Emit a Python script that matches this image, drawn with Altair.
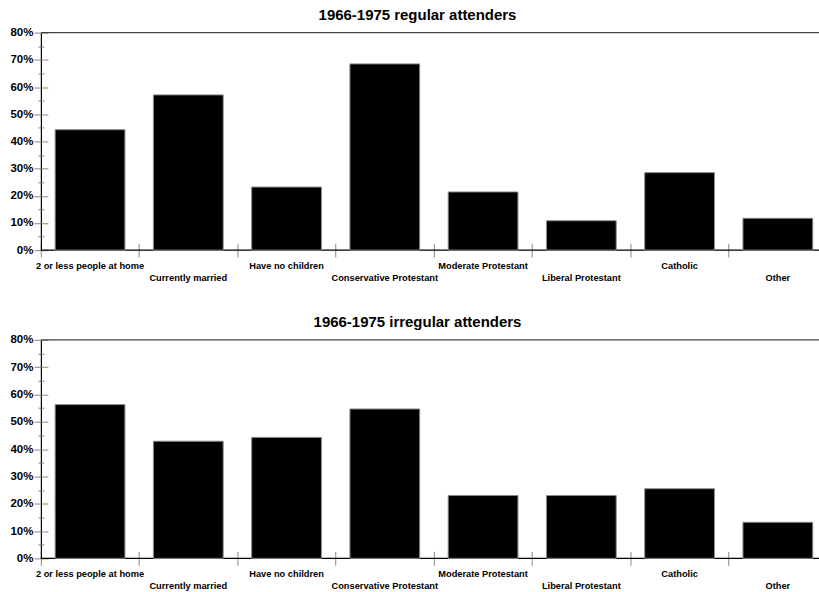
import json
import altair as alt
import pandas as pd

# Share of each group, by attendance pattern (percent)
categories = [
    "2 or less people at home",
    "Currently married",
    "Have no children",
    "Conservative Protestant",
    "Moderate Protestant",
    "Liberal Protestant",
    "Catholic",
    "Other",
]
regular = [44.3, 57.1, 23.2, 68.5, 21.4, 10.8, 28.5, 11.7]
irregular = [56.3, 42.9, 44.3, 54.7, 23.0, 23.0, 25.5, 13.2]
y_ticks = list(range(0, 85, 5))
frame_edges = [0, 80]

FONT = "Liberation Sans, Arial, sans-serif"
W = 788
TICK = "#9a9a9a"

major = "datum.value % 10 === 0"
odd_label = "indexof(%s, datum.value) %% 2 === 1" % json.dumps(categories)


def panel(values, title, H):
    df = pd.DataFrame({"group": categories, "share": values})
    x_scale = alt.Scale(domain=categories, paddingInner=0, paddingOuter=0)
    y_scale = alt.Scale(domain=[0, 80], nice=False, zero=True)
    base = alt.Chart(df)

    bars = base.mark_bar(
        color="black", stroke="#8a8a8a", strokeWidth=1,
        width=alt.RelativeBandSize(0.71),
    ).encode(
        x=alt.X("group:N", sort=categories, scale=x_scale, title=None,
                axis=alt.Axis(orient="bottom", bandPosition=0, labelAngle=0,
                              labelFont=FONT,
                              labelFontWeight="bold", labelFontSize=9.3,
                              labelColor="black", labelBaseline="top",
                              labelPadding={"condition": {"test": odd_label, "value": 16},
                                            "value": 4},
                              tickSize=7, tickColor=TICK, tickWidth=1.2,
                              domain=False, minExtent=0,
                              labelOverlap=False, labelLimit=0)),
        y=alt.Y("share:Q", scale=y_scale, title=None,
                axis=alt.Axis(orient="left", values=y_ticks, grid=False,
                              labelExpr=f"{major} ? datum.value + '%' : ''",
                              labelFont=FONT, labelFontWeight="bold",
                              labelFontSize=11.5, labelColor="black",
                              labelPadding=1, minExtent=0,
                              tickSize={"condition": {"test": major, "value": 7},
                                        "value": 3},
                              tickColor=TICK, tickWidth=1.2,
                              domainColor="black", domainWidth=1.2)),
    )

    # inward halves of the tick marks
    inner = base.mark_bar(opacity=0).encode(
        x=alt.X("group:N", sort=categories, scale=x_scale, title=None,
                axis=alt.Axis(orient="top", offset=-H, bandPosition=0,
                              labels=False, domain=False, tickSize=7,
                              tickColor=TICK, tickWidth=1.2, minExtent=0)),
        y=alt.Y("share:Q", scale=y_scale, title=None,
                axis=alt.Axis(orient="right", offset=-W, values=y_ticks,
                              labels=False, domain=False, grid=False,
                              minExtent=0,
                              tickSize={"condition": {"test": major, "value": 7},
                                        "value": 3},
                              tickColor=TICK, tickWidth=1.2)),
    )

    # baseline and top frame line across the plot
    frame = alt.Chart(pd.DataFrame({"edge": frame_edges})).mark_rule(
        strokeWidth=1.2
    ).encode(
        y=alt.Y("edge:Q", scale=y_scale, axis=None),
        x=alt.value(0),
        x2=alt.value(W),
        color=alt.condition("datum.edge > 0", alt.value("#444444"), alt.value("black")),
    )

    return alt.layer(frame, bars, inner).resolve_axis(
        x="independent", y="independent"
    ).properties(
        width=W, height=H,
        title=alt.TitleParams(title, font=FONT, fontSize=15, fontWeight="bold",
                              color="black", anchor="middle", dx=-16.5, offset=4),
    )


chart = alt.vconcat(
    panel(regular, "1966-1975 regular attenders", 218),
    panel(irregular, "1966-1975 irregular attenders", 219),
    spacing=32,
).properties(
    # the last band runs past the right edge of the page
    padding={"left": 9, "top": 7, "right": -9, "bottom": 0},
    background="white",
).configure_view(stroke=None)

chart.save("out.html", embed_options={"renderer": "svg", "actions": False})
